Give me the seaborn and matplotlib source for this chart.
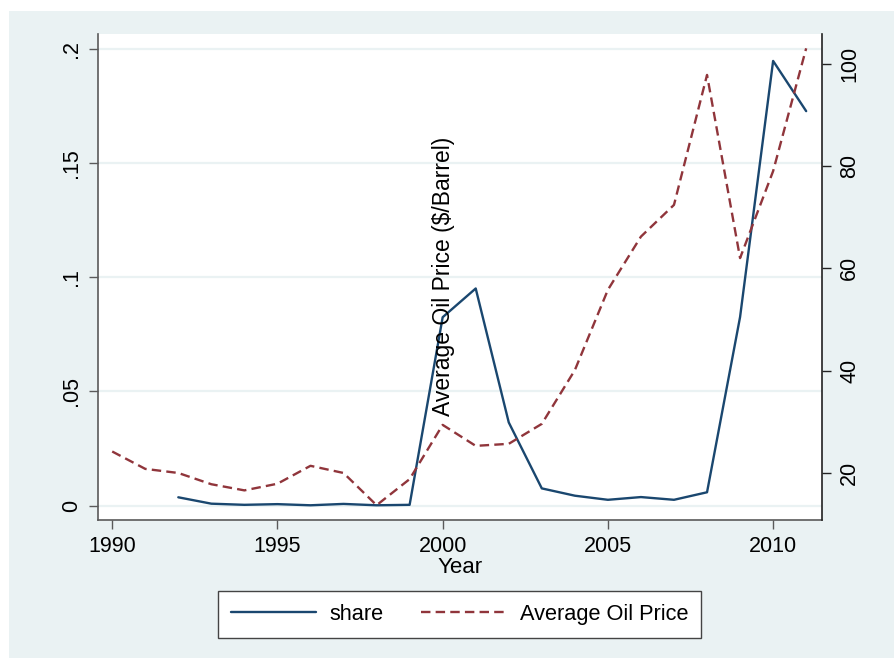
import matplotlib
matplotlib.use("Agg")
import matplotlib.pyplot as plt
import matplotlib.patches as mpatches
import numpy as np
import pandas as pd
import seaborn as sns

# Share of total, by year
share_years = [1992, 1993, 1994, 1995, 1996, 1997, 1998, 1999, 2000, 2001,
               2002, 2003, 2004, 2005, 2006, 2007, 2008, 2009, 2010, 2011]
share = [0.0036, 0.0008, 0.0003, 0.0006, 0.0001, 0.0007, 0.0001, 0.0003,
         0.0825, 0.0951, 0.0364, 0.0075, 0.0043, 0.0025, 0.0037, 0.0025,
         0.0058, 0.0826, 0.1948, 0.1728]

# Average oil price ($/barrel), by year
oil_years = list(range(1990, 2012))
oil_price = [24.2, 20.8, 20.0, 17.8, 16.6, 17.9, 21.4, 20.0, 13.7, 18.8,
             29.4, 25.3, 25.7, 29.6, 40.1, 55.8, 66.2, 72.4, 97.8, 62.0,
             79.0, 103.0]

x_ticks = [1990, 1995, 2000, 2005, 2010]
left_ticks = [0, 0.05, 0.1, 0.15, 0.2]
left_tick_labels = ["0", ".05", ".1", ".15", ".2"]
right_ticks = [20, 40, 60, 80, 100]

share_df = pd.DataFrame({"Year": share_years, "share": share})
oil_df = pd.DataFrame({"Year": oil_years, "Average Oil Price": oil_price})

sns.set_style("white")
plt.rcParams["font.family"] = ["Liberation Sans", "DejaVu Sans"]

NAVY = "#1a476f"
MAROON = "#90353b"
BG = "#eaf2f3"

fig = plt.figure(figsize=(8.95, 6.58), dpi=100, facecolor="white")
# Stata-style outer panel, behind everything
fig.patches.append(mpatches.Rectangle((9 / 895, 0), 1, 1 - 11 / 658,
                                      transform=fig.transFigure,
                                      facecolor=BG, edgecolor="none",
                                      zorder=-10))

ax = fig.add_axes([98 / 895, 1 - 520 / 658, 723.7 / 895, 486 / 658])
ax.set_facecolor("white")
ax2 = ax.twinx()

sns.lineplot(data=share_df, x="Year", y="share", ax=ax, color=NAVY,
             linewidth=1.7, label="share", legend=False)
sns.lineplot(data=oil_df, x="Year", y="Average Oil Price", ax=ax2,
             color=MAROON, linewidth=1.7, linestyle=(0, (4, 2.2)),
             label="Average Oil Price", legend=False)

ax.set_xlim(1989.57, 2011.47)
ax.set_ylim(-0.00635, 0.2066)
ax2.set_ylim(10.81, 105.8)

ax.set_xticks(x_ticks)
ax.set_xticklabels([str(t) for t in x_ticks], fontsize=15.5)
ax.set_yticks(left_ticks)
ax.set_yticklabels(left_tick_labels, fontsize=15.5, rotation=90, va="center")
ax2.set_yticks(right_ticks)
ax2.set_yticklabels([str(t) for t in right_ticks], fontsize=15.5,
                    rotation=90, va="center")

ax.yaxis.grid(True, color=BG, linewidth=1.6)
ax.xaxis.grid(False)
ax.set_axisbelow(True)

for a in (ax, ax2):
    a.spines["top"].set_visible(False)
ax.spines["right"].set_visible(False)
ax2.spines["left"].set_visible(False)
ax2.spines["bottom"].set_visible(False)
for s in ("left", "bottom"):
    ax.spines[s].set_color("#5a5a5a")
    ax.spines[s].set_linewidth(1.2)
ax2.spines["right"].set_color("#222222")
ax2.spines["right"].set_linewidth(1.2)

ax.tick_params(axis="both", direction="out", length=6.5, width=1,
               color="#5a5a5a", pad=5, labelcolor="black")
ax.tick_params(axis="y", left=True)
ax.tick_params(axis="x", bottom=True)
ax2.tick_params(axis="y", direction="out", length=6.5, width=1,
                color="#222222", pad=6, right=True, labelcolor="black")

ax.set_xlabel("Year", fontsize=16, labelpad=0, color="black")
ax.set_ylabel("")
ax2.set_ylabel("Average Oil Price ($/Barrel)", fontsize=16.5, color="black")
ax2.yaxis.set_label_coords(0.478, 0.501)
ax2.yaxis.label.set_va("center")

h1, l1 = ax.get_legend_handles_labels()
h2, l2 = ax2.get_legend_handles_labels()
leg = fig.legend(h1 + h2, l1 + l2, loc="center",
                 bbox_to_anchor=(459.5 / 895, 1 - 614.5 / 658),
                 ncol=2, fontsize=15.7, frameon=True, fancybox=False,
                 framealpha=1, handlelength=3.9, handletextpad=0.64,
                 columnspacing=1.7, borderpad=0.6)
leg.get_frame().set_edgecolor("#444444")
leg.get_frame().set_linewidth(1.0)
leg.get_frame().set_facecolor("white")
for t in leg.get_texts():
    t.set_color("black")

fig.savefig("out.png", dpi=100, facecolor=fig.get_facecolor())
